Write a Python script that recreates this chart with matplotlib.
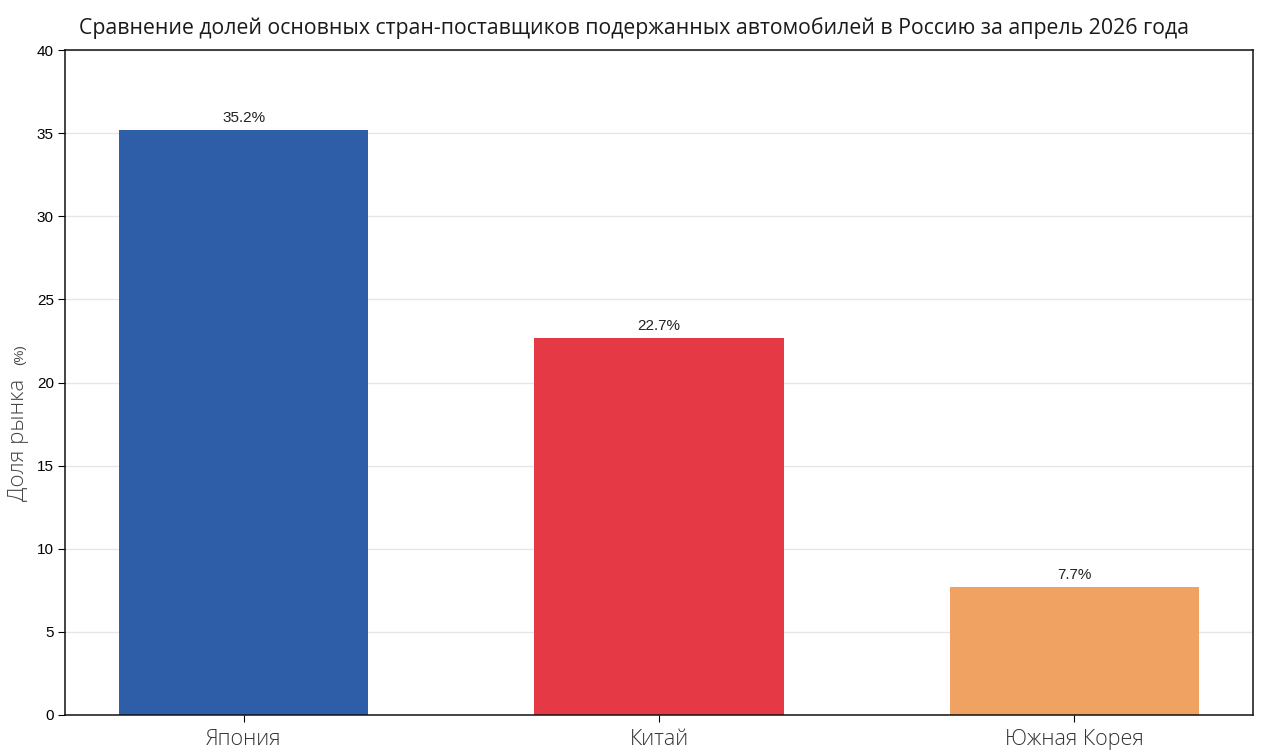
import matplotlib
matplotlib.use("Agg")
import matplotlib.pyplot as plt

countries = ["Япония", "Китай", "Южная Корея"]
shares = [35.2, 22.7, 7.7]
bar_colors = ["#2E5EA8", "#E63946", "#F0A262"]
y_ticks = [0, 5, 10, 15, 20, 25, 30, 35, 40]
title = "Сравнение долей основных стран-поставщиков подержанных автомобилей в Россию за апрель 2026 года"


def main():
    fig = plt.figure(figsize=(12.66, 7.54), dpi=100)
    ax = fig.add_axes([65 / 1266, 1 - 715 / 754, 1188 / 1266, 665 / 754])

    x = range(len(countries))
    bars = ax.bar(x, shares, width=0.6, color=bar_colors, zorder=2)
    for b, v in zip(bars, shares):
        ax.text(b.get_x() + b.get_width() / 2, v + 0.3, f"{v}%",
                ha="center", va="bottom", fontsize=11,
                family="Liberation Sans", color="#222222")

    ax.set_xlim(-0.43, 2.43)
    ax.set_ylim(0, 40)
    ax.set_yticks(y_ticks)
    ax.set_xticks(list(x))
    ax.set_xticklabels(countries, family="Open Sans", fontweight="light",
                       fontsize=15.5, color="#333333")
    for lbl in ax.get_yticklabels():
        lbl.set_family("Liberation Sans")
        lbl.set_fontsize(11)
    ax.tick_params(axis="x", length=5, pad=5)
    ax.tick_params(axis="y", length=5, pad=3)
    ax.grid(axis="y", color="#e6e6e6", linewidth=1, zorder=0)
    ax.set_axisbelow(True)
    for s in ax.spines.values():
        s.set_color("#111111")
        s.set_linewidth(1.1)

    # y label: main text plus smaller unit
    fig.text(19 / 1266, 1 - 440 / 754, "Доля рынка", rotation=90,
             ha="center", va="center", family="Open Sans", fontweight="light",
             fontsize=16, color="#444444")
    fig.text(20 / 1266, 1 - 355 / 754, "(%)", rotation=90,
             ha="center", va="center", family="Liberation Sans",
             fontsize=9.5, color="#444444")

    fig.text(634 / 1266, 1 - 28 / 754, title, ha="center", va="center",
             family="Open Sans", fontsize=15.3, color="#1a1a1a")

    fig.savefig("out.png", dpi=100)


if __name__ == '__main__':
    main()
